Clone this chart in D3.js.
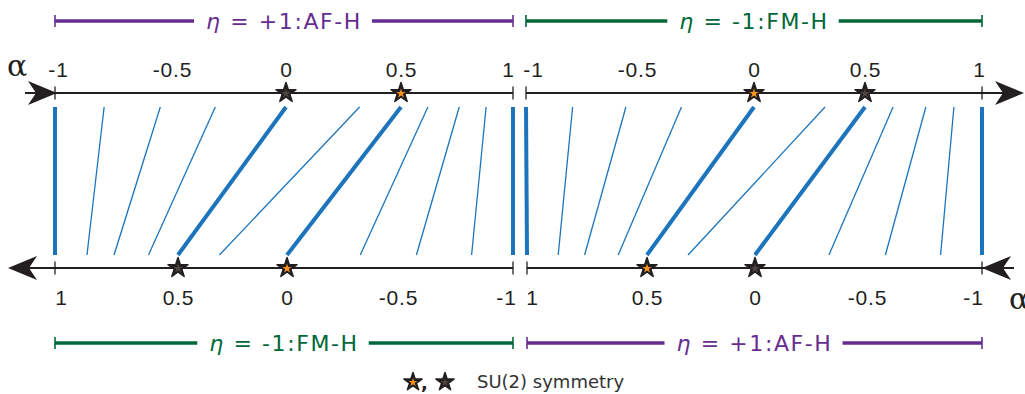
<!DOCTYPE html>
<html>
<head>
<meta charset="utf-8">
<script src="https://cdn.jsdelivr.net/npm/d3@7"></script>
<style>
  body { margin: 0; background: #fff; }
  svg { display: block; }
</style>
</head>
<body>
<svg></svg>
<script>
// canvas
const w = 1025;
const h = 394;

// tick values of both alpha axes
const ticks = [-1, -0.5, 0, 0.5, 1];

// each blue line joins alpha on the top axis to alpha on the bottom axis
const topAlpha    = [-1, -0.79, -0.55, -0.31, 0, 0.32, 0.5, 0.62, 0.76, 0.88, 1];
const bottomAlpha = [1, 0.87, 0.76, 0.62, 0.5, 0.31, 0, -0.33, -0.58, -0.82, -1];
const thickLine   = [true, false, false, false, true, false, true, false, false, false, true];

// eta labels of the two panels (top row, bottom row)
const etaTop    = ["+1:AF-H", "-1:FM-H"];
const etaBottom = ["-1:FM-H", "+1:AF-H"];

// SU(2) stars: alpha value and kind ("o" = orange centre, "d" = dark centre)
const starsTop    = [[{a: 0, k: "d"}, {a: 0.5, k: "o"}], [{a: 0, k: "o"}, {a: 0.5, k: "d"}]];
const starsBottom = [[{a: 0.5, k: "d"}, {a: 0, k: "o"}], [{a: 0.5, k: "o"}, {a: 0, k: "d"}]];

const purple = "#662d91";
const green = "#006838";
const blue = "#1c75bc";
const ink = "#231f20";

const yTop = 93;
const yBot = 268;
const lineTop = 107;
const lineBot = 255;

const svg = d3.select("svg")
              .attr("width", w)
              .attr("height", h);

// the picture's axes are not quite linear, so use piecewise scales
const xTop = [
  d3.scaleLinear().domain(ticks).range([55, 172, 286, 401, 513]),
  d3.scaleLinear().domain(ticks).range([526, 637, 754, 865, 982])
];
const xBot = [
  d3.scaleLinear().domain(ticks.slice().reverse()).range([55, 178, 287, 398, 513]),
  d3.scaleLinear().domain(ticks.slice().reverse()).range([527, 647, 755, 867, 982])
];

// small nudges of the end labels, as in the picture
const topShift = [{"-1": 3, "1": -5}, {"-1": 7, "1": -3}];
const botShift = [{"1": 6, "-1": -7}, {"1": 5, "-1": -9}];

const etaColor = (t) => t.startsWith("+") ? purple : green;

// arrow head: tip at (x, y), dir +1 points right, -1 points left
function arrowHead(x, y, dir) {
  const L = 29, H = 12, N = 8;
  return "M" + x + "," + y +
         "L" + (x - dir * L) + "," + (y - H) +
         "L" + (x - dir * (L - N)) + "," + y +
         "L" + (x - dir * L) + "," + (y + H) + "Z";
}

function star(g, x, y, kind, r) {
  const outer = d3.symbol().type(d3.symbolStar).size(r * r / 0.89);
  const ri = r * 0.47;
  const inner = d3.symbol().type(d3.symbolStar).size(ri * ri / 0.89);
  g.append("path").attr("d", outer()).attr("transform", "translate(" + x + "," + y + ")")
   .attr("fill", ink).attr("stroke", ink).attr("stroke-width", 1.5).attr("stroke-linejoin", "round");
  g.append("path").attr("d", inner()).attr("transform", "translate(" + x + "," + (y + 0.5) + ")")
   .attr("fill", kind === "o" ? "#f7941d" : "#4d4540");
}

// eta bar with a gap for the label
function etaBar(x0, x1, y, label) {
  const col = etaColor(label);
  const g = svg.append("g");
  const t = g.append("text")
             .attr("x", (x0 + x1) / 2)
             .attr("y", y + 8)
             .attr("text-anchor", "middle")
             .attr("fill", col)
             .attr("font-family", "DejaVu Sans")
             .attr("font-size", 22)
             .attr("letter-spacing", 1.6);
  t.append("tspan").attr("font-style", "italic").text("η");
  t.append("tspan").text(" = " + label);
  const len = t.node().getComputedTextLength();
  const mid = (x0 + x1) / 2;
  g.append("line").attr("x1", x0).attr("x2", mid - len / 2 - 12)
   .attr("y1", y).attr("y2", y).attr("stroke", col).attr("stroke-width", 3.5);
  g.append("line").attr("x1", mid + len / 2 + 10).attr("x2", x1)
   .attr("y1", y).attr("y2", y).attr("stroke", col).attr("stroke-width", 3.5);
  [x0, x1].forEach(x => {
    g.append("line").attr("x1", x).attr("x2", x).attr("y1", y - 6).attr("y2", y + 6)
     .attr("stroke", col).attr("stroke-width", 1.6);
  });
}

[0, 1].forEach(p => {
  const st = xTop[p], sb = xBot[p];

  // eta bars
  etaBar(st(-1), st(1), 21, etaTop[p]);
  etaBar(sb(1), sb(-1), 343, etaBottom[p]);

  // blue lines
  svg.append("g")
     .selectAll("line")
     .data(topAlpha)
     .enter()
     .append("line")
     .attr("x1", (a) => st(a))
     .attr("y1", lineTop)
     .attr("x2", (a, i) => sb(bottomAlpha[i]))
     .attr("y2", lineBot)
     .attr("stroke", blue)
     .attr("stroke-width", (a, i) => thickLine[i] ? 4 : 1.3);

  // top axis labels
  svg.append("g")
     .attr("transform", "translate(0," + yTop + ")")
     .call(d3.axisTop(st).tickValues(ticks).tickSize(0).tickPadding(16).tickFormat(d => String(d)))
     .call(g => g.select(".domain").remove())
     .call(g => g.selectAll("text").attr("font-family", "Liberation Sans")
                 .attr("font-size", 21).attr("letter-spacing", 0.8).attr("fill", ink)
                 .attr("dx", d => topShift[p][String(d)] || 0));

  // bottom axis labels
  svg.append("g")
     .attr("transform", "translate(0," + yBot + ")")
     .call(d3.axisBottom(sb).tickValues(ticks).tickSize(0).tickPadding(22).tickFormat(d => String(d)))
     .call(g => g.select(".domain").remove())
     .call(g => g.selectAll("text").attr("font-family", "Liberation Sans")
                 .attr("font-size", 21).attr("letter-spacing", 0.8).attr("fill", ink)
                 .attr("dx", d => botShift[p][String(d)] || 0));
});

// axis lines, end ticks and arrows
const axes = svg.append("g").attr("stroke", ink).attr("stroke-width", 1.8);
axes.append("line").attr("x1", 25).attr("x2", xTop[0](1)).attr("y1", yTop).attr("y2", yTop);
axes.append("line").attr("x1", xTop[1](-1)).attr("x2", 1018).attr("y1", yTop).attr("y2", yTop);
axes.append("line").attr("x1", 12).attr("x2", xBot[0](-1)).attr("y1", yBot).attr("y2", yBot);
axes.append("line").attr("x1", xBot[1](1)).attr("x2", 1014).attr("y1", yBot).attr("y2", yBot);

[xTop[0](-1), xTop[0](1), xTop[1](-1), xTop[1](1)].forEach(x => {
  axes.append("line").attr("x1", x).attr("x2", x).attr("y1", yTop - 6.5).attr("y2", yTop + 6.5).attr("stroke-width", 1.3);
});
[xBot[0](1), xBot[0](-1), xBot[1](1), xBot[1](-1)].forEach(x => {
  axes.append("line").attr("x1", x).attr("x2", x).attr("y1", yBot - 6.5).attr("y2", yBot + 6.5).attr("stroke-width", 1.3);
});

const heads = svg.append("g").attr("fill", ink);
heads.append("path").attr("d", arrowHead(xTop[0](-1) + 2, yTop, 1));
heads.append("path").attr("d", arrowHead(1024, yTop, 1));
heads.append("path").attr("d", arrowHead(8, yBot, -1));
heads.append("path").attr("d", arrowHead(xBot[1](-1), yBot, -1));

// stars on the axes
const starG = svg.append("g");
[0, 1].forEach(p => {
  starsTop[p].forEach(s => star(starG, xTop[p](s.a), yTop, s.k, 10.5));
  starsBottom[p].forEach(s => star(starG, xBot[p](s.a), yBot, s.k, 10.5));
});

// alpha symbols (the right one runs off the edge, as in the picture)
svg.append("text").attr("x", 7).attr("y", 76)
   .attr("font-family", "DejaVu Serif").attr("font-size", 30).attr("fill", ink).text("α");
svg.append("text").attr("x", 1009).attr("y", 309)
   .attr("font-family", "DejaVu Serif").attr("font-size", 30).attr("fill", ink).text("α");

// legend
const leg = svg.append("g");
star(leg, 413, 382, "o", 9.5);
leg.append("text").attr("x", 421).attr("y", 389)
   .attr("font-family", "DejaVu Sans").attr("font-weight", "bold").attr("font-size", 18)
   .attr("fill", ink).text(",");
star(leg, 445, 382, "d", 9.5);
leg.append("text").attr("x", 477).attr("y", 388)
   .attr("font-family", "DejaVu Sans").attr("font-size", 18)
   .attr("fill", "#333").text("SU(2) symmetry");
</script>
</body>
</html>
